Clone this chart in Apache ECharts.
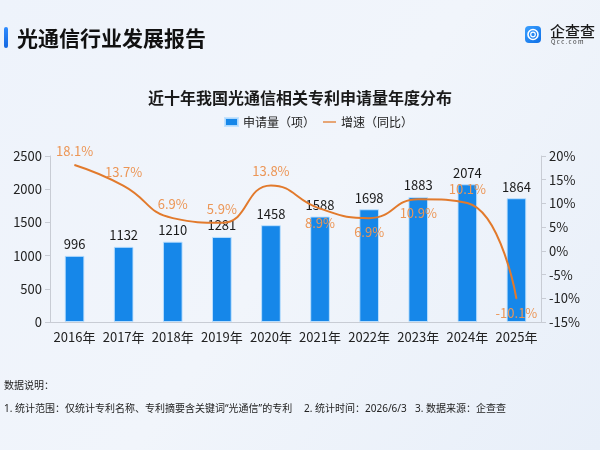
<!DOCTYPE html>
<html><head><meta charset="utf-8">
<script src="https://cdn.jsdelivr.net/npm/echarts@6/dist/echarts.min.js"></script>
<style>html,body{margin:0;padding:0;}#c{width:600px;height:450px;}</style>
</head><body><div id="c"></div>
<script>
const years = ['2016年','2017年','2018年','2019年','2020年','2021年','2022年','2023年','2024年','2025年'];
const applications = [996, 1132, 1210, 1281, 1458, 1588, 1698, 1883, 2074, 1864];
const growth = [18.1, 13.7, 6.9, 5.9, 13.8, 8.9, 6.9, 10.9, 10.1, -10.1];
const growthLabelSide = ['top','top','top','top','top','bottom','bottom','bottom','top','bottom'];

const FONT = '"Noto Sans CJK SC", "Noto Sans", sans-serif';
const NOTE_FONT = '"Noto Sans", "Noto Sans CJK SC", sans-serif';
const chart = echarts.init(document.getElementById('c'), null, {renderer: 'canvas'});
chart.setOption({
  backgroundColor: {
    type: 'linear', x: 0, y: 0, x2: 1, y2: 1,
    colorStops: [{offset: 0, color: '#eef3fb'}, {offset: 0.5, color: '#f1f5fb'}, {offset: 1, color: '#e8eff9'}]
  },
  textStyle: {fontFamily: FONT},
  title: {
    text: '近十年我国光通信相关专利申请量年度分布',
    left: 'center', top: 85,
    textStyle: {fontSize: 16, fontWeight: 'bold', color: '#1a1a1a', fontFamily: FONT}
  },
  legend: {
    top: 111, left: 219,
    itemWidth: 13, itemHeight: 8, itemGap: 8,
    textStyle: {fontSize: 12, color: '#222', fontFamily: FONT},
    data: [
      {name: '申请量（项）', icon: 'rect'},
      {name: '增速（同比）', icon: 'path://M0,0h20v2h-20z'}
    ]
  },
  grid: {left: 50, right: 59, top: 156, bottom: 128, containLabel: false},
  xAxis: {
    type: 'category', data: years,
    axisLine: {lineStyle: {color: '#c8ccd4'}},
    axisTick: {show: false},
    axisLabel: {fontSize: 13, color: '#222', margin: 9, interval: 0, fontFamily: FONT}
  },
  yAxis: [
    {
      type: 'value', min: 0, max: 2500, interval: 500,
      axisLine: {show: true, lineStyle: {color: '#c8ccd4'}},
      axisTick: {show: true, length: 5, lineStyle: {color: '#c8ccd4'}},
      axisLabel: {fontSize: 13, color: '#222', formatter: v => String(v), fontFamily: FONT},
      splitLine: {show: false}
    },
    {
      type: 'value', min: -15, max: 20, interval: 5,
      axisLine: {show: true, lineStyle: {color: '#c8ccd4'}},
      axisTick: {show: true, length: 5, lineStyle: {color: '#c8ccd4'}},
      axisLabel: {fontSize: 13, color: '#222', formatter: '{value}%', fontFamily: FONT},
      splitLine: {show: false}
    }
  ],
  series: [
    {
      name: '申请量（项）', type: 'bar', data: applications, barWidth: '40%',
      itemStyle: {color: '#1687e9', borderColor: 'rgba(190,225,255,0.9)', borderWidth: 1},
      label: {show: true, position: 'top', distance: 5, fontSize: 13, color: '#1a1a1a', fontFamily: FONT}
    },
    {
      name: '增速（同比）', type: 'line', yAxisIndex: 1, smooth: 0.5,
      data: growth.map((v, i) => ({value: v, label: {position: growthLabelSide[i]}})),
      symbol: 'circle', symbolSize: 1,
      itemStyle: {color: '#e27a2c'},
      lineStyle: {color: '#e27a2c', width: 2},
      label: {show: true, formatter: '{c}%', fontSize: 13, color: '#ec9656', distance: 7, fontFamily: FONT}
    }
  ],
  graphic: [
    {type: 'rect', shape: {x: 4, y: 27, width: 4, height: 21, r: 2},
     style: {fill: {type: 'linear', x: 0, y: 0, x2: 0, y2: 1, colorStops: [{offset: 0, color: '#2f8cff'}, {offset: 1, color: '#1567e0'}]}}},
    {type: 'text', x: 17, y: 38.5, style: {text: '光通信行业发展报告', fill: '#111', verticalAlign: 'middle', font: 'bold 21px ' + FONT}},
    {type: 'rect', shape: {x: 525, y: 26, width: 16, height: 17, r: 4},
     style: {fill: {type: 'linear', x: 0, y: 0, x2: 1, y2: 1, colorStops: [{offset: 0, color: '#3aa0ff'}, {offset: 1, color: '#0f6fe6'}]}}},
    {type: 'circle', shape: {cx: 533, cy: 34.5, r: 5}, style: {fill: 'none', stroke: '#fff', lineWidth: 1.6}},
    {type: 'circle', shape: {cx: 533, cy: 34.5, r: 2.3}, style: {fill: 'none', stroke: '#fff', lineWidth: 1.2}},
    {type: 'text', x: 550, y: 31, style: {text: '企查查', font: '500 15px ' + FONT, fill: '#1a1a1a', verticalAlign: 'middle'}},
    {type: 'text', x: 551, y: 41.5, style: {text: 'Q c c . c o m', font: '6px ' + FONT, fill: '#333', verticalAlign: 'middle'}},
    {type: 'text', x: 4, y: 386, style: {text: '数据说明：', font: '10px ' + NOTE_FONT, fill: '#222', verticalAlign: 'middle'}},
    {type: 'text', x: 4, y: 409, style: {text: '1. 统计范围：仅统计专利名称、专利摘要含关键词“光通信”的专利', font: '10px ' + NOTE_FONT, fill: '#222', verticalAlign: 'middle'}},
    {type: 'text', x: 304, y: 409, style: {text: '2. 统计时间：2026/6/3', font: '10px ' + NOTE_FONT, fill: '#222', verticalAlign: 'middle'}},
    {type: 'text', x: 415, y: 409, style: {text: '3. 数据来源：企查查', font: '10px ' + NOTE_FONT, fill: '#222', verticalAlign: 'middle'}}
  ]
});
</script></body></html>
